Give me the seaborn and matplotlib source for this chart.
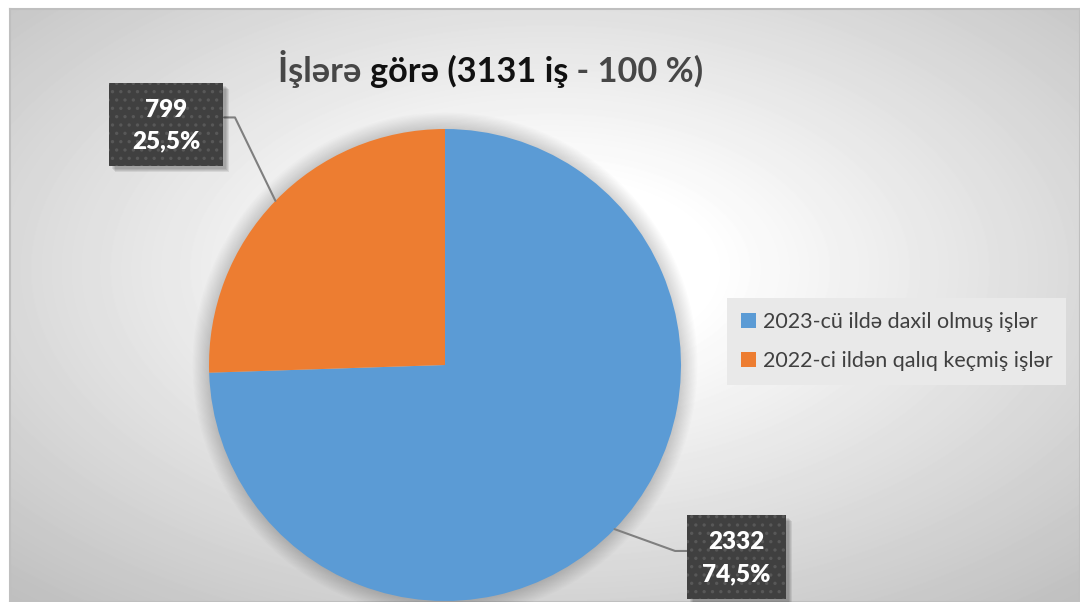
import numpy as np
import matplotlib.pyplot as plt
import seaborn as sns
from matplotlib.patches import Rectangle, Circle

# data
categories = ['2023-cü ildə daxil olmuş işlər', '2022-ci ildən qalıq keçmiş işlər']
counts = [2332, 799]
slice_colors = ['#5B9BD5', '#ED7D31']

sns.set_theme(style='white')
plt.rcParams['font.family'] = ['Lato', 'DejaVu Sans']
plt.rcParams['hatch.color'] = '#585858'
plt.rcParams['hatch.linewidth'] = 1.2

W, H = 1080, 602
fig = plt.figure(figsize=(W / 100, H / 100), dpi=100)
fig.patch.set_facecolor('white')

# radial grey background of the chart area
bg = fig.add_axes([10 / W, 0, (W - 10) / W, (H - 9) / H])
yy, xx = np.mgrid[0:593, 0:1070]
d = np.sqrt(((xx - 540) / 1070) ** 2 + ((yy - 260) / 593) ** 2)
shade = 1 - 0.42 * np.clip(d - 0.15, 0, None)
bg.imshow(shade, cmap='gray', vmin=0, vmax=1, aspect='auto', interpolation='bilinear')
bg.set_xticks([])
bg.set_yticks([])
for s in bg.spines.values():
    s.set_color('#bfbfbf')
    s.set_linewidth(1.5)

# pie
cx, cy, r = 445, 365, 236
ax = fig.add_axes([(cx - r) / W, (H - cy - r) / H, 2 * r / W, 2 * r / H])
for i in range(14):
    ax.add_patch(Circle((0, 0), 1 + 0.005 * (i + 1), color='black', alpha=0.012, lw=0, zorder=0, clip_on=False))
wedges, _ = ax.pie(counts, colors=slice_colors, startangle=90, counterclock=False, radius=1,
                   wedgeprops=dict(linewidth=0))
ax.set_xlim(-1, 1)
ax.set_ylim(-1, 1)
ax.axis('off')

total = sum(counts)
# label boxes (centre, size, elbow x, box edge x, line y) in pie units
box_layout = [((1.235, -0.814), (0.419, 0.356), 0.975, 1.025, -0.788),
              ((-1.182, 1.019), (0.483, 0.352), -0.890, -0.936, 1.049)]
for w, v, (c, sz, ex, bx, ly) in zip(wedges, counts, box_layout):
    mid = np.deg2rad((w.theta1 + w.theta2) / 2)
    px, py = np.cos(mid), np.sin(mid)
    ax.plot([px, ex, bx], [py, ly, ly], color='#7f7f7f', lw=1.5, clip_on=False, zorder=3)
    for k in range(4):
        ax.add_patch(Rectangle((c[0] - sz[0] / 2 + 0.012 + 0.004 * k, c[1] - sz[1] / 2 - 0.012 - 0.004 * k),
                               sz[0], sz[1], facecolor='black', alpha=0.08, lw=0, clip_on=False, zorder=4))
    ax.add_patch(Rectangle((c[0] - sz[0] / 2, c[1] - sz[1] / 2), sz[0], sz[1], facecolor='#404040',
                           edgecolor='#585858', hatch='..', lw=0, clip_on=False, zorder=5))
    pct = f'{v / total * 100:.1f}'.replace('.', ',')
    ax.text(c[0], c[1] - 0.005, f'{v}\n{pct}%', ha='center', va='center', color='white', fontsize=17.5,
            fontweight='heavy', linespacing=1.55, zorder=6)

# title in three runs
t1 = fig.text(278 / W, 1 - 82 / H, 'İşlərə ', fontsize=24.7, fontweight='bold', color='#474747', va='baseline')
t2 = ax.annotate(f'görə ({total} iş', xy=(1, 0), xycoords=t1, va='bottom', ha='left',
                 fontsize=24.7, fontweight='bold', color='#111111', annotation_clip=False)
t3 = ax.annotate(' - 100 %)', xy=(1, 0), xycoords=t2, va='bottom', ha='left',
                 fontsize=24.7, fontweight='bold', color='#474747', annotation_clip=False)

leg = ax.legend(wedges, categories, loc='upper left', bbox_to_anchor=(727 / W, 1 - 298 / H),
                bbox_transform=fig.transFigure, frameon=True, facecolor='#e9e9e9', edgecolor='none',
                framealpha=1, fancybox=False, fontsize=15.5, handlelength=0.7, handleheight=0.7,
                handletextpad=0.3, labelspacing=0.9, borderpad=0.65, borderaxespad=0)
for t in leg.get_texts():
    t.set_color('#404040')

fig.savefig('out.png', dpi=100)
